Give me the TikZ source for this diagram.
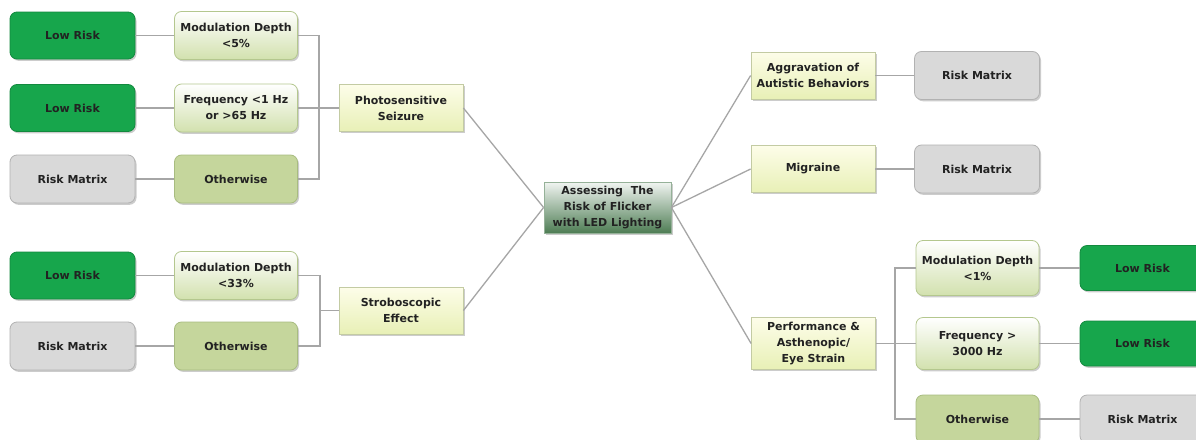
\documentclass[tikz,border=0pt]{standalone}
\usepackage{fontspec}
\setmainfont{DejaVu Sans}
\usetikzlibrary{shadows}
\definecolor{lowg}{HTML}{17A64C}
\definecolor{lowgd}{HTML}{12893E}
\definecolor{rmfill}{HTML}{D9D9D9}
\definecolor{rmdraw}{HTML}{B2B2B2}
\definecolor{condbot}{HTML}{D2E1AE}
\definecolor{conddraw}{HTML}{B4C78E}
\definecolor{othfill}{HTML}{C5D69C}
\definecolor{othdraw}{HTML}{A8BC80}
\definecolor{toptop}{HTML}{FDFDE9}
\definecolor{topbot}{HTML}{E8F0B6}
\definecolor{topdraw}{HTML}{C3CBA3}
\definecolor{cenbot}{HTML}{4E7D54}
\definecolor{lnc}{HTML}{A6A6A6}
\definecolor{txt}{HTML}{222222}
\tikzset{
  box/.style={align=center, text=txt, font=\fontsize{11}{16}\selectfont\bfseries,
    line width=0.8pt, inner sep=1pt,
    drop shadow={shadow xshift=1.5pt, shadow yshift=-1.8pt, opacity=0.4}},
  lowrisk/.style={box, fill=lowg, draw=lowgd, rounded corners=7pt, minimum width=125pt, minimum height=47pt},
  riskm/.style={box, fill=rmfill, draw=rmdraw, rounded corners=7pt, minimum width=125pt, minimum height=48pt},
  cond/.style={box, top color=white, bottom color=condbot, draw=conddraw, rounded corners=7pt, minimum width=123pt, minimum height=48pt},
  other/.style={box, fill=othfill, draw=othdraw, rounded corners=7pt, minimum width=123pt, minimum height=48pt},
  topic/.style={box, top color=toptop, bottom color=topbot, draw=topdraw, minimum width=124pt, minimum height=47pt},
  center/.style={box, top color=white!92!cenbot, bottom color=cenbot, draw=cenbot!60, minimum width=127pt, minimum height=51pt},
  conn/.style={draw=lnc, line width=1.3pt}
}
\begin{document}
\begin{tikzpicture}[x=1pt,y=-1pt]
\useasboundingbox (0,0) rectangle (1196,439);
\clip (0,0) rectangle (1196,439);
\fill[white] (0,0) rectangle (1196,439);

% center
\node[center] (cen) at (607.5,207.5) {Assessing\ \ The\\Risk of Flicker\\with LED Lighting};

% left top branch
\node[topic] (ps) at (401,108) {Photosensitive\\Seizure};
\node[cond] (md5) at (236,35.5) {Modulation Depth\\<5\%};
\node[cond] (fq1) at (236,108) {Frequency <1 Hz\\or >65 Hz};
\node[other] (ot1) at (236,179) {Otherwise};
\node[lowrisk] (lr1) at (72.5,35.5) {Low Risk};
\node[lowrisk] (lr2) at (72.5,108) {Low Risk};
\node[riskm] (rm1) at (72.5,179) {Risk Matrix};
\coordinate (kA) at (319,108);

% left bottom branch
\node[topic] (st) at (401,310.5) {Stroboscopic\\Effect};
\node[cond] (md33) at (236,275.5) {Modulation Depth\\<33\%};
\node[other] (ot2) at (236,346) {Otherwise};
\node[lowrisk] (lr3) at (72.5,275.5) {Low Risk};
\node[riskm] (rm2) at (72.5,346) {Risk Matrix};
\coordinate (kB) at (320,310.5);

% right branches
\node[topic] (ag) at (813,75.5) {Aggravation of\\Autistic Behaviors};
\node[riskm] (rm3) at (977,75.5) {Risk Matrix};
\node[topic] (mi) at (813,169) {Migraine};
\node[riskm] (rm4) at (977,169) {Risk Matrix};
\node[topic, minimum height=52pt] (pf) at (813.5,343.5) {Performance \&\\Asthenopic/\\Eye Strain};
\node[cond, minimum height=55pt] (md1) at (977.5,268) {Modulation Depth\\<1\%};
\node[cond, minimum height=52pt] (fq3) at (977.5,343.5) {Frequency >\\3000 Hz};
\node[other] (ot3) at (977.5,419) {Otherwise};
\node[lowrisk, minimum height=45pt] (lr4) at (1142.5,268) {Low Risk};
\node[lowrisk, minimum height=45pt] (lr5) at (1142.5,343.5) {Low Risk};
\node[riskm] (rm5) at (1142.5,419) {Risk Matrix};
\coordinate (kC) at (895,343.5);

% connectors
\draw[conn] (lr1.east) -- (md5.west);
\draw[conn] (lr2.east) -- (fq1.west);
\draw[conn] (rm1.east) -- (ot1.west);
\draw[conn] (md5.east) -| (kA) |- (ot1.east);
\draw[conn] (fq1.east) -- (ps.west);
\draw[conn] (lr3.east) -- (md33.west);
\draw[conn] (rm2.east) -- (ot2.west);
\draw[conn] (md33.east) -| (kB) |- (ot2.east);
\draw[conn] (kB) -- (st.west);
\draw[conn] (ps.east) -- (cen.west);
\draw[conn] (st.east) -- (cen.west);
\draw[conn] (cen.east) -- (ag.west);
\draw[conn] (cen.east) -- (mi.west);
\draw[conn] (cen.east) -- (pf.west);
\draw[conn] (ag.east) -- (rm3.west);
\draw[conn] (mi.east) -- (rm4.west);
\draw[conn] (pf.east) -- (kC);
\draw[conn] (md1.west) -| (kC) |- (ot3.west);
\draw[conn] (kC) -- (fq3.west);
\draw[conn] (md1.east) -- (lr4.west);
\draw[conn] (fq3.east) -- (lr5.west);
\draw[conn] (ot3.east) -- (rm5.west);
\end{tikzpicture}
\end{document}
